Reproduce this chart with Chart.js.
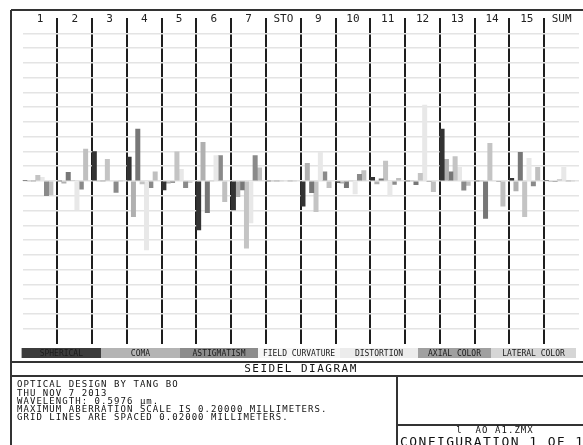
<!DOCTYPE html>
<html>
<head>
<meta charset="utf-8">
<script src="https://cdn.jsdelivr.net/npm/chart.js@4.4.1/dist/chart.umd.min.js"></script>
<style>
  html, body { margin: 0; padding: 0; background: #fff; }
  canvas { display: block; }
</style>
</head>
<body>
<canvas id="seidel" width="583" height="445"></canvas>
<script>
// surfaces across the top of the diagram
const surfaces = ['1', '2', '3', '4', '5', '6', '7', 'STO', '9', '10', '11', '12', '13', '14', '15', 'SUM'];

// seidel contributions per surface, millimeters
const spherical    = [0.001, 0, 0.040, 0.0325, -0.0122, -0.0664, -0.0393, 0, -0.034, -0.002, 0.005, 0, 0.0705, 0, 0.0037, 0.001];
const coma         = [0, -0.003, 0, -0.0484, -0.003, 0.0525, -0.0213, 0, 0.024, -0.003, -0.004, 0, 0.0294, 0, -0.0136, -0.001];
const astigmatism  = [0, 0.0117, 0, 0.0705, -0.002, -0.043, -0.0122, 0, -0.0159, -0.009, 0.003, -0.005, 0.0126, -0.0506, 0.0389, -0.001];
const fieldCurv    = [0.0076, 0.001, 0.0294, -0.004, 0.0397, 0, -0.091, 0, -0.0416, 0, 0.027, 0.0104, 0.033, 0.0511, -0.0484, 0.002];
const distortion   = [0.005, -0.039, 0, -0.0936, 0.0159, 0.0343, -0.057, 0, 0.0389, -0.0176, -0.0203, 0.103, 0.0185, 0, 0.0307, 0.0185];
const axialColor   = [-0.020, -0.011, -0.0155, -0.009, -0.009, 0.0343, 0.0343, 0, 0.0126, 0.009, -0.0045, -0.001, -0.0126, -0.001, -0.0068, 0];
const lateralColor = [-0.019, 0.0434, 0, 0.0126, -0.002, -0.028, 0.018, 0, -0.009, 0.014, 0.0037, -0.0145, -0.006, -0.034, 0.0185, 0];

const seriesNames = ['SPHERICAL', 'COMA', 'ASTIGMATISM', 'FIELD CURVATURE', 'DISTORTION', 'AXIAL COLOR', 'LATERAL COLOR'];
const seriesData = [spherical, coma, astigmatism, fieldCurv, distortion, axialColor, lateralColor];
const barColors = ['#333333', '#b0b0b0', '#777777', '#c4c4c4', '#e8e8e8', '#8a8a8a', '#c0c0c0'];
const legendColors = ['#3c3c3c', '#b4b4b4', '#8c8c8c', '#f6f6f6', '#ececec', '#a0a0a0', '#d6d6d6'];

const maxScale = 0.2;
const gridSpacing = 0.02;

const infoLines = [
    'OPTICAL DESIGN BY TANG BO',
    'THU NOV 7 2013',
    'WAVELENGTH: 0.5976 \u00b5m.',
    'MAXIMUM ABERRATION SCALE IS 0.20000 MILLIMETERS.',
    'GRID LINES ARE SPACED 0.02000 MILLIMETERS.',
];
const fileName = 'l  AO \u00c31.ZMX';
const configText = 'CONFIGURATION 1 OF 1';

const datasets = seriesData.map((vals, i) => ({
    label: seriesNames[i],
    data: vals,
    backgroundColor: barColors[i],
    borderWidth: 0,
}));
// empty slot so each group starts at the left edge of its column
datasets.push({ label: '', data: [], backgroundColor: 'transparent' });

const gridValues = [];
for (let k = -Math.round(maxScale / gridSpacing); k <= Math.round(maxScale / gridSpacing); k++) {
    gridValues.push(k * gridSpacing);
}

const mono = '"DejaVu Sans Mono", "Liberation Mono", monospace';

function line(ctx, x1, y1, x2, y2) {
    ctx.beginPath();
    ctx.moveTo(x1, y1);
    ctx.lineTo(x2, y2);
    ctx.stroke();
}

const zemaxFrame = {
    id: 'zemaxFrame',
    beforeDraw(chart) {
        const ctx = chart.ctx;
        ctx.save();
        ctx.fillStyle = '#fff';
        ctx.fillRect(0, 0, chart.width, chart.height);
        ctx.restore();
    },
    afterDraw(chart) {
        const ctx = chart.ctx;
        const xs = chart.scales.x;
        ctx.save();

        // surface numbers
        ctx.fillStyle = '#222';
        ctx.font = '11px ' + mono;
        ctx.textAlign = 'center';
        ctx.textBaseline = 'middle';
        surfaces.forEach((s, i) => {
            ctx.fillText(s, xs.getPixelForValue(i), 19);
        });

        // legend strip
        const edges = [21.6, 101, 180, 258, 340, 418, 491, 576];
        ctx.font = '8px ' + mono;
        seriesNames.forEach((name, i) => {
            ctx.fillStyle = legendColors[i];
            ctx.fillRect(edges[i], 348, edges[i + 1] - edges[i], 10);
            ctx.fillStyle = '#1a1a1a';
            ctx.fillText(name, (edges[i] + edges[i + 1]) / 2, 353.5);
        });

        // frame
        ctx.strokeStyle = '#333';
        ctx.lineWidth = 2;
        line(ctx, 11, 10, 583, 10);
        line(ctx, 11, 10, 11, 445);
        line(ctx, 11, 362, 583, 362);
        line(ctx, 11, 376, 583, 376);
        line(ctx, 397, 376, 397, 445);
        line(ctx, 397, 425, 583, 425);

        // title
        ctx.fillStyle = '#111';
        ctx.font = '11px ' + mono;
        ctx.letterSpacing = '1.5px';
        ctx.fillText('SEIDEL DIAGRAM', 301, 369.5);

        // info text
        ctx.textAlign = 'left';
        ctx.font = '9px ' + mono;
        ctx.letterSpacing = '1.05px';
        const ys = [385, 393.2, 401.4, 409.6, 417.6];
        infoLines.forEach((t, i) => ctx.fillText(t, 17, ys[i]));

        ctx.textAlign = 'center';
        ctx.fillText(fileName, 495, 431);

        ctx.textAlign = 'left';
        ctx.font = '13px ' + mono;
        ctx.letterSpacing = '1.4px';
        ctx.textBaseline = 'top';
        ctx.fillText(configText, 400, 436);

        ctx.restore();
    }
};

new Chart(document.getElementById('seidel'), {
    type: 'bar',
    data: { labels: surfaces, datasets: datasets },
    options: {
        responsive: false,
        animation: false,
        devicePixelRatio: 1,
        layout: { padding: { left: 22.6, right: 4, top: 18, bottom: 101 } },
        datasets: { bar: { categoryPercentage: 1, barPercentage: 1 } },
        plugins: {
            legend: { display: false },
            tooltip: { enabled: false },
        },
        scales: {
            x: {
                type: 'category',
                offset: true,
                grid: {
                    offset: true,
                    drawTicks: false,
                    lineWidth: 2,
                    color: (c) => (c.index > 0 ? '#1e1e1e' : 'transparent'),
                },
                border: { display: false },
                ticks: { display: false },
            },
            y: {
                z: -1,
                min: -0.221,
                max: 0.221,
                afterBuildTicks: (scale) => {
                    scale.ticks = gridValues.map(v => ({ value: v }));
                },
                grid: { drawTicks: false, color: '#e4e4e4', lineWidth: 1.5 },
                border: { display: false },
                ticks: { display: false },
            },
        },
    },
    plugins: [zemaxFrame],
});
</script>
</body>
</html>
